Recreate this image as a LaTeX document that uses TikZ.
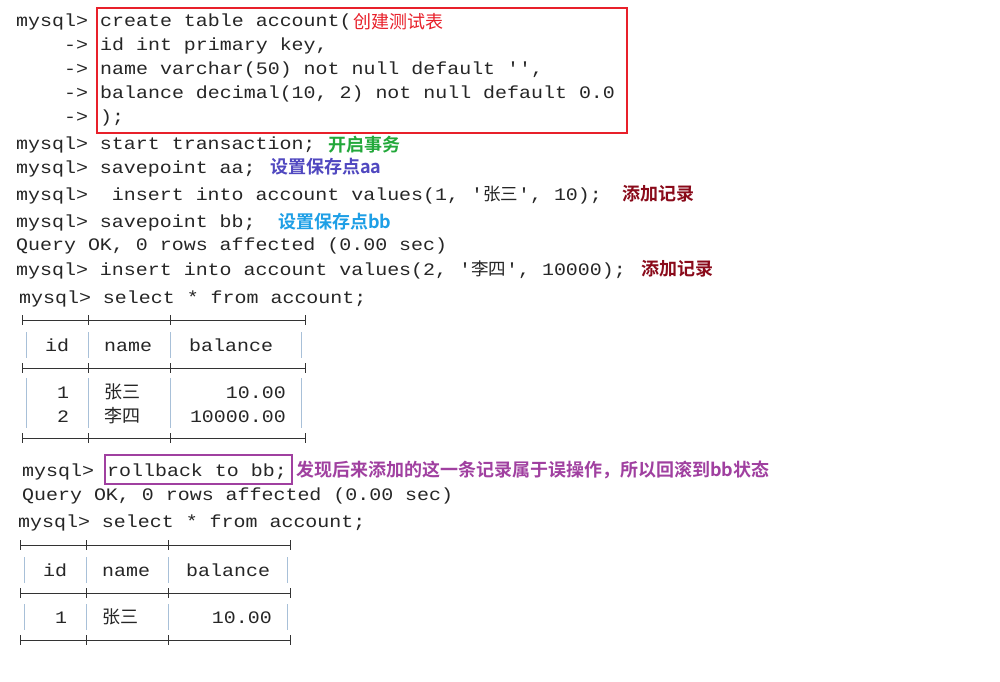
\documentclass[tikz,border=0pt]{standalone}
\usepackage{fontspec}
\setmonofont[FakeStretch=1.14]{Liberation Mono}
\newfontfamily\cjk{Noto Sans CJK SC}
\newfontfamily\cjkb{Noto Sans CJK SC Bold}
\definecolor{cred}{HTML}{E8202A}
\definecolor{cgreen}{HTML}{22A83A}
\definecolor{cblue}{HTML}{5048C0}
\definecolor{cdred}{HTML}{8A0A1A}
\definecolor{ccyan}{HTML}{1E9FE6}
\definecolor{cpurp}{HTML}{A040A0}
\definecolor{cbar}{HTML}{A8C0D8}
\begin{document}
\begin{tikzpicture}[x=1pt,y=-1pt,
  t/.style={anchor=base west,yshift=-6pt,inner sep=0pt,font=\ttfamily\fontsize{17.5}{18}\selectfont,text=black!85},
  note/.style={anchor=west,inner sep=0pt,font=\cjkb\fontsize{18}{18}\selectfont},
  hl/.style={line width=0.7pt,black!80},
  vb/.style={line width=1pt,cbar}]
\useasboundingbox (0,0) rectangle (1000,681);
\fill[white] (0,0) rectangle (1000,681);
\node[t] (p1) at (16,20) {mysql>};
\node[t] (c1) at (100,20) {create table account(};
\node[note,text=cred,font=\cjk\fontsize{18}{18}\selectfont] (n1) at ([xshift=1pt]c1.east|-p1.west) {创建测试表};
\node[t] (p2) at (64,44) {->}; \node[t] (c2) at (100,44) {id int primary key,};
\node[t] (p3) at (64,68) {->}; \node[t] (c3) at (100,68) {name varchar(50) not null default '',};
\node[t] (p4) at (64,92) {->}; \node[t] (c4) at (100,92) {balance decimal(10, 2) not null default 0.0};
\node[t] (p5) at (64,116) {->}; \node[t] (c5) at (100,116) {);};
\draw[cred,line width=2.5pt] (97,8) rectangle (627,133);
\node[t] (l6) at (16,143) {mysql> start transaction;};
\node[note,text=cgreen] (n6) at (328,145) {开启事务};
\node[t] (l7) at (16,167) {mysql> savepoint aa;};
\node[note,text=cblue] (n7) at (270,167) {设置保存点aa};
\node[t] (l8) at (16,194) {mysql>~ insert into account values(1, '{\cjk 张三}', 10);};
\node[note,text=cdred] (n8) at (622,194) {添加记录};
\node[t] (l9) at (16,221) {mysql> savepoint bb;};
\node[note,text=ccyan] (n9) at (278,222) {设置保存点bb};
\node[t] (l10) at (16,244) {Query OK, 0 rows affected (0.00 sec)};
\node[t] (l11) at (16,269) {mysql> insert into account values(2, '{\cjk 李四}', 10000);};
\node[note,text=cdred] (n11) at (641,269) {添加记录};
\node[t] (l12) at (19,297) {mysql> select * from account;};
% table 1
\foreach \y in {320,368,438} {\draw[hl] (22,\y) -- (305,\y);
  \foreach \x in {22,88,170,305} \draw[hl] (\x,\y-5) -- (\x,\y+5);}
\foreach \x in {26,88,170,301} {\draw[vb] (\x,332) -- (\x,358); \draw[vb] (\x,378) -- (\x,428);}
\node[t] (h1) at (45,345) {id}; \node[t] (h2) at (104,345) {name}; \node[t] (h3) at (189,345) {balance};
\node[t] (r11) at (57,392) {1}; \node[t,font=\cjk\fontsize{18}{18}\selectfont] (r12) at (104,392) {张三}; \node[t,anchor=base east] (r13) at (286,392) {10.00};
\node[t] (r21) at (57,416) {2}; \node[t,font=\cjk\fontsize{18}{18}\selectfont] (r22) at (104,416) {李四}; \node[t,anchor=base east] (r23) at (286,416) {10000.00};
% rollback
\node[t] (l13) at (22,470) {mysql>};
\node[t] (l13b) at (107,470) {rollback to bb;};
\draw[cpurp,line width=2pt] (105,455) rectangle (292,484);
\node[note,text=cpurp] (n13) at (296,470) {发现后来添加的这一条记录属于误操作，所以回滚到bb状态};
\node[t] (l14) at (22,494) {Query OK, 0 rows affected (0.00 sec)};
\node[t] (l15) at (18,521) {mysql> select * from account;};
% table 2
\foreach \y in {545,593,640} {\draw[hl] (20,\y) -- (290,\y);
  \foreach \x in {20,86,168,290} \draw[hl] (\x,\y-5) -- (\x,\y+5);}
\foreach \x in {24,86,168,287} {\draw[vb] (\x,557) -- (\x,583); \draw[vb] (\x,604) -- (\x,630);}
\node[t] (g1) at (43,570) {id}; \node[t] (g2) at (102,570) {name}; \node[t] (g3) at (186,570) {balance};
\node[t] (s1) at (55,617) {1}; \node[t,font=\cjk\fontsize{18}{18}\selectfont] (s2) at (102,617) {张三}; \node[t,anchor=base east] (s3) at (272,617) {10.00};
\end{tikzpicture}
\end{document}
